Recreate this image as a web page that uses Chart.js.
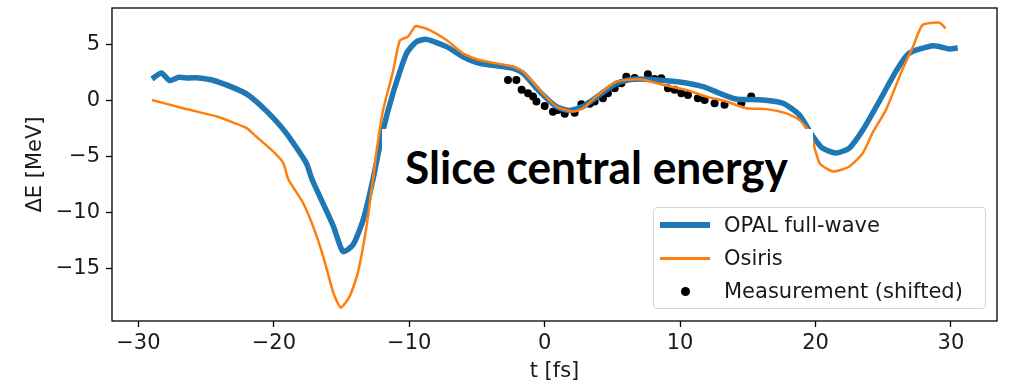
<!DOCTYPE html>
<html>
<head>
<meta charset="utf-8">
<script src="https://cdn.jsdelivr.net/npm/chart.js@4.4.0/dist/chart.umd.min.js"></script>
<style>
  html, body { margin: 0; padding: 0; background: #fff; }
  #wrap { position: relative; width: 1023px; height: 381px; overflow: hidden; }
  #chart { position: absolute; left: 0; top: 0; }
  #cover { position: absolute; left: 382px; top: 129px; width: 431px; height: 80px; background: #fff; }
  #label { position: absolute; left: 405px; top: 144px; font: bold 46px Lato, "Open Sans", sans-serif; color: #000;
           white-space: nowrap; transform-origin: 0 0; line-height: 1; }
  #legend { position: absolute; left: 653px; top: 207px; width: 333px; height: 102px; box-sizing: border-box;
            border: 1px solid #d4d4d4; border-radius: 4px; background: rgba(255,255,255,0.85);
            font: 21px "DejaVu Sans", sans-serif; color: #1a1a1a; }
  .row { position: absolute; left: 0; height: 30px; width: 100%; }
  .row span { position: absolute; left: 70px; top: 0; line-height: 30px; white-space: nowrap; }
  .swatch { position: absolute; left: 6px; width: 50px; }
  .dot { position: absolute; left: 27px; top: 11px; width: 9px; height: 9px; border-radius: 50%; background: #000; }
</style>
</head>
<body>
<div id="wrap">
  <canvas id="chart" width="1023" height="381"></canvas>
  <div id="cover"></div>
  <div id="label">Slice central energy</div>
  <div id="legend">
    <div class="row" style="top:2px"><div class="swatch" style="top:12px;height:6px;background:#1f77b4"></div><span>OPAL full-wave</span></div>
    <div class="row" style="top:35px"><div class="swatch" style="top:14px;height:2.5px;background:#ff7f0e"></div><span>Osiris</span></div>
    <div class="row" style="top:68px"><div class="dot"></div><span>Measurement (shifted)</span></div>
  </div>
</div>
<script>
// OPAL full-wave simulation
const tOpal = [-29.0, -28.3, -27.7, -27.0, -26.3, -25.7, -24.5, -23.0, -21.9, -20.5, -19.1, -17.6, -17.2, -16.6,
  -15.6, -14.9, -14.15, -13.4, -12.67, -11.93, -11.2, -10.2, -9.47, -8.73, -7.25, -6.03, -4.8, -2.34, -1.6,
  -0.37, 0.86, 1.85, 2.83, 4.06, 5.3, 6.5, 8.24, 9.96, 11.7, 12.9, 14.1, 16.1, 17.6, 18.8, 19.8, 20.5, 21.5,
  22.5, 23.5, 24.7, 26.0, 26.9, 28.7, 29.9, 30.5];
const eOpal = [1.92, 2.45, 1.77, 2.07, 2.0, 2.03, 1.8, 1.14, 0.49, -1.0, -2.9, -5.6, -7.0, -8.6,
  -11.25, -13.5, -12.9, -10.65, -7.0, -2.63, 0.64, 4.2, 5.24, 5.45, 4.8, 3.9, 3.31, 2.87, 2.42,
  0.78, -0.55, -0.9, -0.55, 0.49, 1.53, 1.89, 1.83, 1.65, 1.23, 0.64, 0.13, 0.04, -0.25, -1.29, -3.2, -4.26, -4.7,
  -4.26, -2.63, -0.1, 2.72, 4.2, 4.88, 4.59, 4.68];

// Osiris simulation
const tOsiris = [-29.0, -26.7, -24.2, -23.0, -22.0, -21.3, -20.05, -19.3, -18.95, -18.6, -17.84, -17.1, -16.36,
  -15.6, -15.06, -14.4, -13.8, -13.2, -12.67, -12.4, -11.93, -11.2, -10.7, -10.1, -9.6, -9.47, -8.49, -7.25,
  -6.03, -4.8, -2.34, -1.6, -0.37, 0.86, 2.09, 2.83, 3.8, 5.3, 7.0, 8.7, 10.46, 11.93, 13.4, 14.9, 16.4, 17.8,
  18.8, 19.6, 20.3, 21.3, 22.5, 23.5, 24.2, 25.2, 26.4, 27.2, 27.9, 29.15, 29.6];
const eOsiris = [0.04, -0.7, -1.44, -1.98, -2.48, -3.23, -4.56, -5.6, -7.0, -7.7, -9.16, -11.25, -13.9,
  -17.2, -18.5, -17.5, -15.4, -11.6, -7.0, -4.4, -0.85, 2.57, 5.33, 5.69, 6.58, 6.64, 6.28, 5.39,
  4.2, 3.6, 3.01, 2.57, 0.94, -0.55, -1.0, -0.7, 0.34, 1.68, 1.89, 1.4, 0.94, 0.34, -0.1, -0.7, -0.78, -1.14,
  -1.74, -2.92, -5.6, -6.34, -5.9, -4.7, -2.92, -0.85, 2.72, 4.8, 6.73, 6.93, 6.43];

// Measurement (shifted)
const tMeas = [-2.71, -2.09, -1.70, -1.23, -0.86, -0.61, 0.0, 0.61, 0.96, 1.48, 2.21, 2.71, 3.32, 3.69, 4.30,
  4.67, 5.17, 5.66, 6.03, 6.64, 7.62, 8.12, 8.61, 9.10, 9.59, 10.09, 10.58, 11.31, 11.81, 12.55, 13.28, 14.52, 15.25];
const eMeas = [1.83, 1.83, 0.94, 0.64, 0.34, -0.11, -0.49, -1.02, -0.85, -1.20, -1.11, -0.34, -0.31, -0.11, 0.20,
  0.64, 1.09, 1.53, 2.12, 2.0, 2.34, 1.92, 1.98, 1.09, 0.94, 0.64, 0.49, 0.20, 0.04, -0.25, -0.40, -0.25, 0.34];

const xTicks = [-30, -20, -10, 0, 10, 20, 30];
const yTicks = [-15, -10, -5, 0, 5];

const toPoints = (xs, ys) => xs.map((x, i) => ({ x: x, y: ys[i] }));
const minus = v => String(v).replace('-', '\u2212');

// matplotlib style box around the plot area
const frame = {
  id: 'frame',
  afterDatasetsDraw(chart) {
    const { ctx, chartArea: a } = chart;
    ctx.save();
    ctx.strokeStyle = '#000';
    ctx.lineWidth = 1.3;
    ctx.strokeRect(a.left, a.top, a.right - a.left, a.bottom - a.top);
    ctx.restore();
  }
};

const tickFont = { family: 'DejaVu Sans', size: 21 };

new Chart(document.getElementById('chart'), {
  type: 'scatter',
  data: {
    datasets: [
      { label: 'Osiris', data: toPoints(tOsiris, eOsiris), showLine: true, borderColor: '#ff7f0e',
        borderWidth: 2.5, pointRadius: 0, tension: 0.2, order: 0 },
      { label: 'OPAL full-wave', data: toPoints(tOpal, eOpal), showLine: true, borderColor: '#1f77b4',
        borderWidth: 5.5, pointRadius: 0, tension: 0.2, order: 1 },
      { label: 'Measurement (shifted)', data: toPoints(tMeas, eMeas), showLine: false, backgroundColor: '#000',
        borderColor: '#000', pointRadius: 4, borderWidth: 0, order: 2 }
    ]
  },
  options: {
    responsive: false,
    animation: false,
    layout: { padding: { top: 8, right: 26, left: 0, bottom: 0 } },
    plugins: { legend: { display: false }, tooltip: { enabled: false } },
    scales: {
      x: {
        type: 'linear', min: -31.95, max: 33.4,
        afterBuildTicks: s => { s.ticks = xTicks.map(v => ({ value: v })); },
        afterFit: s => { s.height = 60; s.paddingLeft = 0; s.paddingRight = 0; },
        ticks: { callback: minus, font: tickFont, color: '#1a1a1a', maxRotation: 0, padding: 4 },
        grid: { drawOnChartArea: false, tickLength: 6, tickColor: '#000', tickWidth: 1.3 },
        border: { display: false },
        title: { display: true, text: 't [fs]', font: tickFont, color: '#1a1a1a', padding: { top: 0, bottom: -3 } }
      },
      y: {
        type: 'linear', min: -19.7, max: 8.25,
        afterBuildTicks: s => { s.ticks = yTicks.map(v => ({ value: v })); },
        afterFit: s => { s.width = 112; s.paddingTop = 0; s.paddingBottom = 0; },
        ticks: { callback: minus, font: tickFont, color: '#1a1a1a', padding: 6 },
        grid: { drawOnChartArea: false, tickLength: 6, tickColor: '#000', tickWidth: 1.3 },
        border: { display: false },
        title: { display: true, text: '\u0394E [MeV]', font: tickFont, color: '#1a1a1a', padding: { top: 23, bottom: 0 } }
      }
    }
  },
  plugins: [frame]
});

// squeeze the overlay caption to the reference width
const label = document.getElementById('label');
label.style.transform = 'scaleX(' + (383 / label.offsetWidth) + ')';
</script>
</body>
</html>
